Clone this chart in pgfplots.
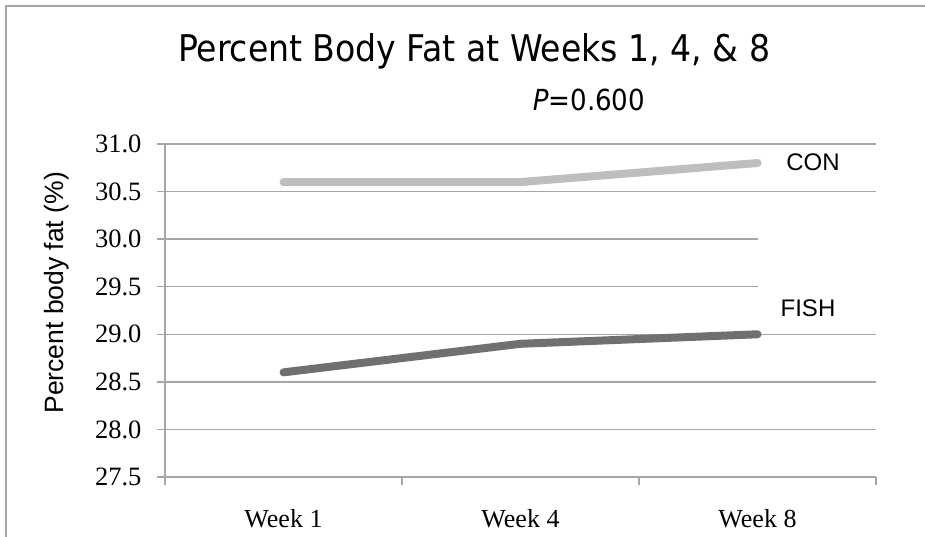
\documentclass[border=0pt]{standalone}
\usepackage{pgfplots}
\pgfplotsset{compat=1.18}
\usepackage{fontspec}
\setmainfont{Liberation Sans}
\newfontfamily\titlefont{DejaVu Sans Condensed}
\newfontfamily\serifx{Liberation Serif}
\definecolor{gridc}{HTML}{A6A6A6}
\definecolor{conc}{HTML}{BEBEBE}
\definecolor{fishc}{HTML}{707070}
\begin{document}
\begin{tikzpicture}[x=1pt,y=1pt]
\useasboundingbox (0,0) rectangle (925,537);
\draw[gridc, line width=2pt] (6,0) -- (6,531) -- (925,531);
\node[font=\titlefont\fontsize{36.8}{40}\selectfont, anchor=base] at (474,475) {Percent Body Fat at Weeks 1, 4, \& 8};
\node[font=\titlefont\fontsize{29}{32}\selectfont, anchor=base] at (589,426) {\textit{P}=0.600};
\begin{axis}[
  at={(165pt,60pt)}, anchor=south west,
  scale only axis, width=711pt, height=333pt,
  xmin=0.5, xmax=3.5, ymin=27.5, ymax=31.0,
  axis lines*=left,
  axis line style={gridc, line width=1.5pt},
  xtick={1,2,3}, xticklabels={Week 1, Week 4, Week 8},
  minor xtick={0.5,1.5,2.5,3.5},
  major x tick style={draw=none},
  minor x tick style={gridc, line width=1.5pt},
  ytick={27.5,28,28.5,29,29.5,30,30.5,31},
  y tick style={gridc, line width=1.5pt},
  tick align=outside,
  major tick length=8pt, minor tick length=8pt,
  ymajorgrids, grid style={gridc, line width=1.5pt},
  yticklabel style={font=\serifx\fontsize{26.5}{26.5}\selectfont, xshift=-12pt, /pgf/number format/.cd, fixed, fixed zerofill, precision=1, assume math mode=true},
  xticklabel style={font=\serifx\fontsize{26}{26}\selectfont, yshift=-21pt},
  ylabel={Percent body fat (\%)},
  ylabel style={font=\fontsize{26.5}{28}\selectfont, at={(axis description cs:-0.152,0.553)}, anchor=center},
  clip=false,
]
\fill[white] (axis cs:3.0,29.2) rectangle (axis cs:3.5,30.3);
\addplot[conc, line width=8pt, line cap=round, line join=round] coordinates {(1,30.6) (2,30.6) (3,30.8)};
\addplot[fishc, line width=8pt, line cap=round, line join=round] coordinates {(1,28.6) (2,28.9) (3,29.0)};
\node[font=\fontsize{24}{26}\selectfont] at (axis cs:3.234,30.81) {CON};
\node[font=\fontsize{24}{26}\selectfont] at (axis cs:3.213,29.27) {FISH};
\end{axis}
\end{tikzpicture}
\end{document}
